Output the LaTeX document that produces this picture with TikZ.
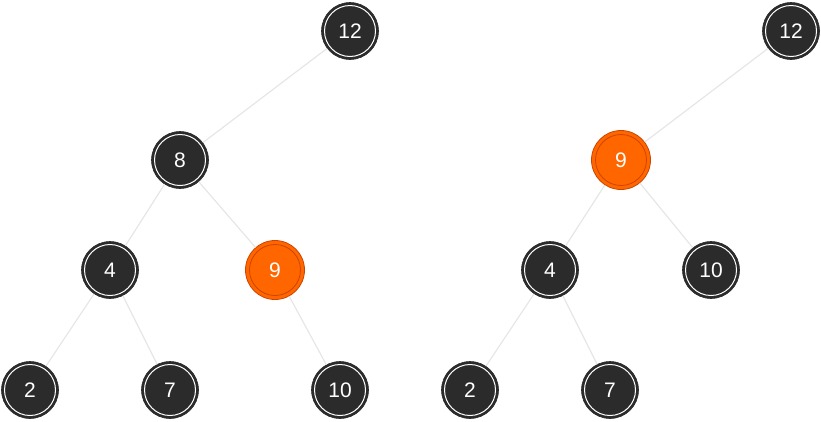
\documentclass[tikz,border=0pt]{standalone}
\usepackage{fontspec}
\setmainfont{Liberation Sans}
\definecolor{nodedark}{HTML}{2B2B2B}
\definecolor{nodeorange}{HTML}{FF6600}
\definecolor{orangeline}{HTML}{CC4400}
\definecolor{edgegray}{HTML}{E6E6E6}
\begin{document}
\begin{tikzpicture}[x=1pt,y=-1pt,
  darknode/.style={circle,fill=nodedark,draw=nodedark,line width=0.6pt,minimum size=57pt,inner sep=0pt,
    text=white,font=\fontsize{21}{21}\selectfont,
    append after command={\pgfextra{\let\mainnode=\tikzlastnode}
      (\mainnode.center) node[circle,draw=white,line width=1pt,minimum size=51pt,inner sep=0pt]{}}},
  orangenode/.style={circle,fill=nodeorange,draw=orangeline,line width=0.8pt,minimum size=59pt,inner sep=0pt,
    text=white,font=\fontsize{21}{21}\selectfont,
    append after command={\pgfextra{\let\mainnode=\tikzlastnode}
      (\mainnode.center) node[circle,draw=orangeline,line width=0.8pt,minimum size=51pt,inner sep=0pt]{}}},
  edge/.style={draw=edgegray,line width=1.2pt}]
\useasboundingbox (0,0) rectangle (821,421);
% left tree
\node[darknode] (a12) at (350,31) {12};
\node[darknode] (a8) at (180,160) {8};
\node[darknode] (a4) at (110,270) {4};
\node[orangenode] (a9) at (275,270) {9};
\node[darknode] (a2) at (30,390) {2};
\node[darknode] (a7) at (170,390) {7};
\node[darknode] (a10) at (340,390) {10};
% right tree
\node[darknode] (b12) at (791,31) {12};
\node[orangenode] (b9) at (621,160) {9};
\node[darknode] (b4) at (550,270) {4};
\node[darknode] (b10) at (711,270) {10};
\node[darknode] (b2) at (470,390) {2};
\node[darknode] (b7) at (610,390) {7};
\draw[edge] (a12) -- (a8);
\draw[edge] (a8) -- (a4);
\draw[edge] (a8) -- (a9);
\draw[edge] (a4) -- (a2);
\draw[edge] (a4) -- (a7);
\draw[edge] (a9) -- (a10);
\draw[edge] (b12) -- (b9);
\draw[edge] (b9) -- (b4);
\draw[edge] (b9) -- (b10);
\draw[edge] (b4) -- (b2);
\draw[edge] (b4) -- (b7);
\end{tikzpicture}
\end{document}
